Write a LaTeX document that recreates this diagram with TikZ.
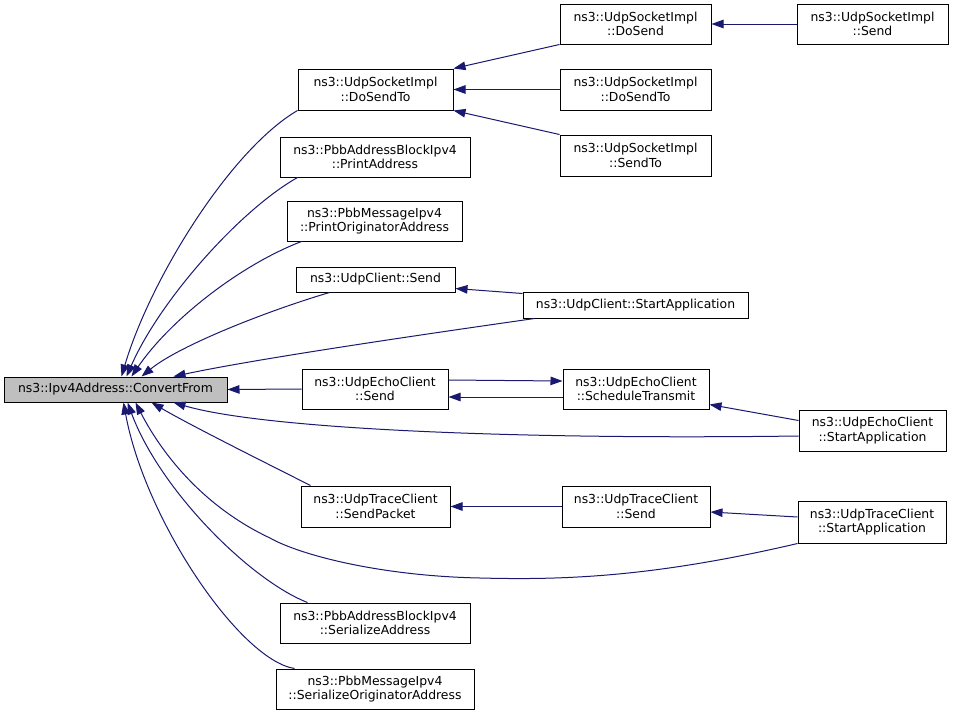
\documentclass[tikz,border=0pt]{standalone}
\usepackage{fontspec}
\setmainfont{DejaVu Sans}
\usetikzlibrary{arrows.meta}
\definecolor{edgeblue}{RGB}{25,25,112}
\definecolor{cfgray}{RGB}{191,191,191}
\begin{document}
\begin{tikzpicture}[x=1pt,y=-1pt,
  box/.style={draw=black,line width=1pt,rectangle,inner sep=0pt,align=center,
    font=\fontsize{12.4}{14.6}\selectfont},
  edge/.style={draw=edgeblue,line width=1pt,-{Triangle[length=12pt,width=8.5pt]}}]
\fill[white] (0,0) rectangle (955,715);
\useasboundingbox (0,0) rectangle (955,715);
% nodes
\node[box,fill=cfgray,minimum width=223pt,minimum height=25pt] (cf) at (115.5,389.5) {ns3::Ipv4Address::ConvertFrom};
\node[box,minimum width=155pt,minimum height=41pt] (dstL) at (375.5,89.5) {ns3::UdpSocketImpl\\::DoSendTo};
\node[box,minimum width=190pt,minimum height=40pt] (pa) at (375,157) {ns3::PbbAddressBlockIpv4\\::PrintAddress};
\node[box,minimum width=175pt,minimum height=40pt] (poa) at (374.5,221) {ns3::PbbMessageIpv4\\::PrintOriginatorAddress};
\node[box,minimum width=159pt,minimum height=25pt] (ucs) at (375.5,279.5) {ns3::UdpClient::Send};
\node[box,minimum width=146pt,minimum height=40pt] (ecs) at (375,389) {ns3::UdpEchoClient\\::Send};
\node[box,minimum width=149pt,minimum height=41pt] (tcsp) at (375.5,506.5) {ns3::UdpTraceClient\\::SendPacket};
\node[box,minimum width=190pt,minimum height=40pt] (sa) at (375,623) {ns3::PbbAddressBlockIpv4\\::SerializeAddress};
\node[box,minimum width=198pt,minimum height=40pt] (soa) at (375,689) {ns3::PbbMessageIpv4\\::SerializeOriginatorAddress};
\node[box,minimum width=151pt,minimum height=40pt] (ds) at (635.5,24) {ns3::UdpSocketImpl\\::DoSend};
\node[box,minimum width=151pt,minimum height=41pt] (dstR) at (635.5,89.5) {ns3::UdpSocketImpl\\::DoSendTo};
\node[box,minimum width=151pt,minimum height=41pt] (st) at (635.5,155.5) {ns3::UdpSocketImpl\\::SendTo};
\node[box,minimum width=151pt,minimum height=40pt] (sss) at (872.5,24) {ns3::UdpSocketImpl\\::Send};
\node[box,minimum width=225pt,minimum height=26pt] (ucsa) at (635.5,305) {ns3::UdpClient::StartApplication};
\node[box,minimum width=146pt,minimum height=40pt] (est) at (636,389) {ns3::UdpEchoClient\\::ScheduleTransmit};
\node[box,minimum width=147pt,minimum height=41pt] (ecsa) at (872.5,430.5) {ns3::UdpEchoClient\\::StartApplication};
\node[box,minimum width=148pt,minimum height=41pt] (tcs) at (636,506.5) {ns3::UdpTraceClient\\::Send};
\node[box,minimum width=148pt,minimum height=42pt] (tcsa) at (872,522) {ns3::UdpTraceClient\\::StartApplication};
% edges into ConvertFrom (top)
\draw[edge] (dstL.south west) .. controls (230,150) and (150,280) .. ([xshift=118pt]cf.north west);
\draw[edge] ([xshift=18pt]pa.south west) .. controls (240,210) and (160,300) .. ([xshift=123pt]cf.north west);
\draw[edge] ([xshift=15pt]poa.south west) .. controls (240,265) and (170,320) .. ([xshift=128pt]cf.north west);
\draw[edge] ([xshift=34pt]ucs.south west) .. controls (270,310) and (180,345) .. ([xshift=138pt]cf.north west);
\draw[edge] ([xshift=12pt]ucsa.south west) .. controls (440,332) and (260,358) .. ([xshift=170pt]cf.north west);
\draw[edge] (ecs.west) -- (cf.east);
% edges into ConvertFrom (bottom)
\draw[edge] ([yshift=-5.5pt]ecsa.west) .. controls (500,440) and (260,428) .. ([xshift=170pt]cf.south west);
\draw[edge] ([xshift=10pt]tcsp.north west) .. controls (260,460) and (190,425) .. ([xshift=148pt]cf.south west);
\draw[edge] (tcsa.south west) .. controls (650,578) and (560,580) .. (480,578)
  .. controls (380,576) and (300,555) .. (270,538)
  .. controls (200,505) and (160,450) .. ([xshift=132pt]cf.south west);
\draw[edge] ([xshift=28pt]sa.north west) .. controls (250,580) and (160,490) .. ([xshift=124pt]cf.south west);
\draw[edge] ([xshift=19pt]soa.north west) .. controls (240,660) and (145,520) .. ([xshift=120pt]cf.south west);
% right side
\draw[edge] (ds.south west) -- (dstL.north east);
\draw[edge] (dstR.west) -- (dstL.east);
\draw[edge] (st.north west) -- (dstL.south east);
\draw[edge] (sss.west) -- (ds.east);
\draw[edge] ([yshift=-2pt]ucsa.north west) -- ([yshift=4pt]ucs.south east);
\draw[edge] ([yshift=9pt]ecs.east) -- ([yshift=8pt]est.west);
\draw[edge] ([yshift=-8pt]est.west) -- ([yshift=-8pt]ecs.east);
\draw[edge] ([yshift=-11pt]ecsa.north west) -- ([yshift=5pt]est.south east);
\draw[edge] (tcs.west) -- (tcsp.east);
\draw[edge] ([yshift=5pt]tcsa.west) -- ([yshift=-5.5pt]tcs.east);
\end{tikzpicture}
\end{document}
